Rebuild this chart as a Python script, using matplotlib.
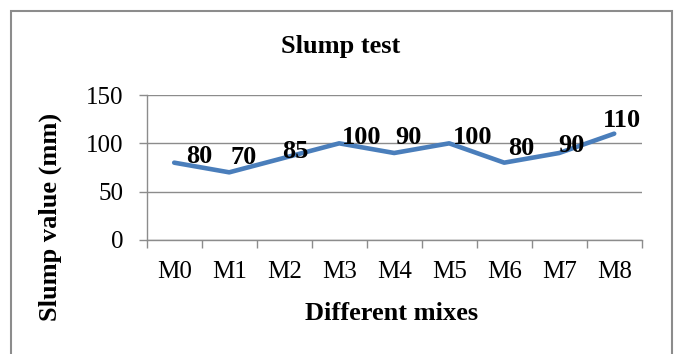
import matplotlib
matplotlib.use("Agg")
import matplotlib.pyplot as plt
import numpy as np
from matplotlib.patches import Rectangle

# Slump test results per mix
mixes = ["M0", "M1", "M2", "M3", "M4", "M5", "M6", "M7", "M8"]
slump_mm = [80, 70, 85, 100, 90, 100, 80, 90, 110]
y_ticks = [0, 50, 100, 150]

# label offsets from each point, in pixels
label_dx = [25, 14, 11, 22, 14, 23, 17, 12, 8]
label_dy = [6, 15, 6, 6, 15, 6, 14, 7, 13]

plt.rcParams["font.family"] = ["Liberation Serif", "DejaVu Serif"]
FS = 18
FS_BOLD = 19
GRID = "#8c8c8c"
LINE = "#4a7ebb"

fig = plt.figure(figsize=(6.75, 3.54), dpi=100)
ax = fig.add_axes([146.7 / 675, 114 / 354, 495 / 675, 145 / 354])

x = np.arange(len(mixes))
ax.plot(x, slump_mm, color=LINE, lw=3.3, solid_capstyle="round",
        solid_joinstyle="round", zorder=3)

for xi, v, dx, dy in zip(x, slump_mm, label_dx, label_dy):
    ax.annotate(str(v), (xi, v), xytext=(dx, dy), textcoords="offset pixels",
                ha="center", va="center", fontsize=FS_BOLD, fontweight="bold",
                zorder=4)

ax.set_xlim(-0.5, len(mixes) - 0.5)
ax.set_ylim(0, 150)
ax.set_yticks(y_ticks)
ax.set_yticklabels([str(t) for t in y_ticks], fontsize=FS)
ax.set_xticks(x)
ax.set_xticklabels(mixes, fontsize=FS)
ax.set_xticks(np.arange(len(mixes) + 1) - 0.5, minor=True)

ax.tick_params(axis="x", which="major", length=0, pad=15)
ax.tick_params(axis="x", which="minor", length=5.8, color=GRID, width=1)
ax.tick_params(axis="y", length=5.8, color=GRID, width=1, pad=11)

ax.grid(axis="y", color=GRID, lw=1)
ax.set_axisbelow(True)
for side in ["top", "right"]:
    ax.spines[side].set_visible(False)
for side in ["left", "bottom"]:
    ax.spines[side].set_color(GRID)
    ax.spines[side].set_linewidth(1)

fig.text(341 / 675, 1 - 47 / 354, "Slump test", ha="center", va="center",
         fontsize=FS_BOLD, fontweight="bold")
fig.text(392 / 675, 1 - 313 / 354, "Different mixes", ha="center", va="center",
         fontsize=FS_BOLD, fontweight="bold")
fig.text(50 / 675, 1 - 217 / 354, "Slump value (mm)", ha="center", va="center",
         rotation=90, fontsize=FS_BOLD, fontweight="bold")

# chart frame
fig.patches.append(Rectangle((11 / 675, -0.05), 661 / 675, 1.05 - 11 / 354,
                             transform=fig.transFigure, fill=False,
                             edgecolor=GRID, lw=1.5))

fig.savefig("out.png", dpi=100)
